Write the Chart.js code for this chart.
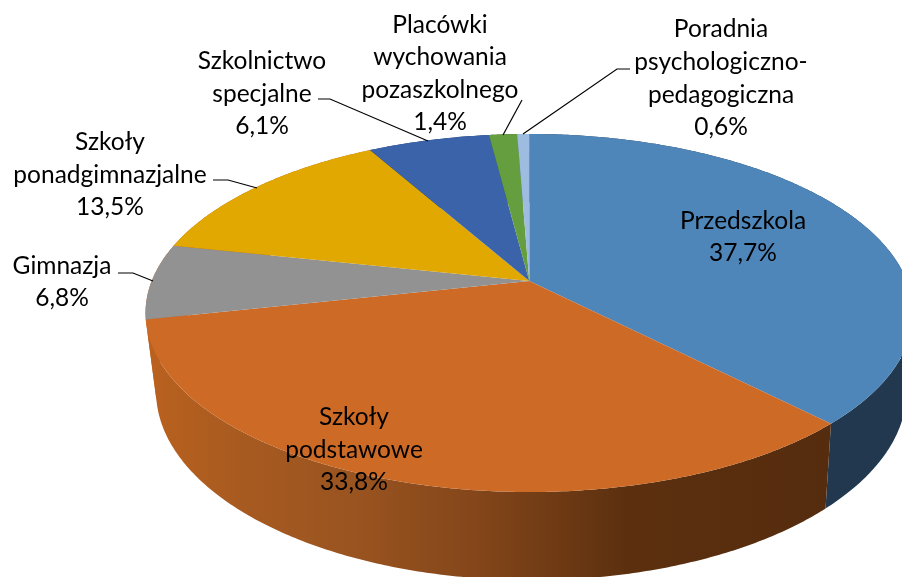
<!DOCTYPE html>
<html lang="pl">
<head>
<meta charset="utf-8">
<style>html,body{margin:0;padding:0;background:#fff}canvas{display:block}</style>
<script src="https://cdn.jsdelivr.net/npm/chart.js@4/dist/chart.umd.js"></script>
</head>
<body>
<canvas id="c" width="902" height="577"></canvas>
<script>
const categories = [
  ['Przedszkola'],
  ['Szkoły', 'podstawowe'],
  ['Gimnazja'],
  ['Szkoły', 'ponadgimnazjalne'],
  ['Szkolnictwo', 'specjalne'],
  ['Placówki', 'wychowania', 'pozaszkolnego'],
  ['Poradnia', 'psychologiczno-', 'pedagogiczna']
];
const values = [37.7, 33.8, 6.8, 13.5, 6.1, 1.4, 0.6];
const topColors = ['#4F86BA', '#CD6A26', '#929292', '#E0A800', '#3B63A9', '#659E3F', '#9EBCE0'];
const wallColors = [
  [[0, '#21384F'], [1, '#21384F']],
  [[0, '#BA611F'], [0.15, '#A65A20'], [0.3, '#9A5420'], [0.48, '#84461A'], [0.7, '#5C300F'], [1, '#552C0E']],
  [[0, '#BA611F'], [1, '#BA611F']],
  [[0, '#BA611F'], [1, '#BA611F']],
  [[0, '#223a63'], [1, '#223a63']],
  [[0, '#3a5c24'], [1, '#3a5c24']],
  [[0, '#5c6e82'], [1, '#5c6e82']]
];

// Perspective of the tilted disc (layout, not data)
const view = { cx: 529.3, cy: 281, ax: 377.6, ay: 173.3, tilt: 0.1787, depth: 79, shrink: 0.022, skew: 2 };
// Label layout: centre x, centre y of each line, leader polyline
const labelLayout = [
  { x: 743, y: [221, 253] },
  { x: 354, y: [417, 450, 482] },
  { x: 62, y: [266, 298], leader: [[118, 273], [133, 273], [153, 281]] },
  { x: 110, y: [142, 175, 207], leader: [[213, 180], [228, 180], [257, 188]] },
  { x: 262, y: [61, 94, 126], leader: [[318, 99], [330, 99], [428, 141]] },
  { x: 440, y: [25, 57, 90, 122], leader: [[522, 100], [503, 135]] },
  { x: 721, y: [29, 62, 95, 127], leader: [[630, 69], [617, 69], [523, 134]] }
];

function project(angle, z) {
  const u = Math.cos(angle), v = Math.sin(angle);
  const w = 1 - view.tilt * v + view.shrink * z;
  return [view.cx + view.skew * z + view.ax * u / w, view.cy + (view.ay * v + view.depth * z) / w];
}

const perspectivePie = {
  id: 'perspectivePie',
  beforeDatasetDraw(chart, args) {
    const ctx = chart.ctx;
    const arcs = chart.getDatasetMeta(args.index).data;
    // Side walls first
    arcs.forEach((arc, i) => {
      const a0 = arc.startAngle, a1 = arc.endAngle;
      const steps = Math.max(2, Math.ceil((a1 - a0) / 0.01));
      ctx.beginPath();
      for (let s = 0; s < steps; s++) {
        const t0 = a0 + (a1 - a0) * s / steps, t1 = a0 + (a1 - a0) * (s + 1) / steps;
        const q = [project(t0, 0), project(t1, 0), project(t1, 1), project(t0, 1)];
        let area = 0;
        q.forEach((p, k) => { const n = q[(k + 1) % 4]; area += p[0] * n[1] - n[0] * p[1]; });
        if (area < 0) q.reverse();
        ctx.moveTo(q[0][0], q[0][1]);
        for (let k = 1; k < 4; k++) ctx.lineTo(q[k][0], q[k][1]);
        ctx.closePath();
      }
      const g = ctx.createLinearGradient(146, 0, 832, 0);
      wallColors[i].forEach(st => g.addColorStop(st[0], st[1]));
      ctx.fillStyle = g;
      ctx.fill();
    });
    // Top face
    arcs.forEach((arc, i) => {
      const a0 = arc.startAngle, a1 = arc.endAngle;
      const steps = Math.max(2, Math.ceil((a1 - a0) / 0.01));
      ctx.beginPath();
      ctx.moveTo(view.cx, view.cy);
      for (let s = 0; s <= steps; s++) {
        const p = project(a0 + (a1 - a0) * s / steps, 0);
        ctx.lineTo(p[0], p[1]);
      }
      ctx.closePath();
      ctx.fillStyle = arc.options.backgroundColor;
      ctx.fill();
    });
    return false; // the default circular drawing is replaced
  },
  afterDatasetsDraw(chart) {
    const ctx = chart.ctx;
    ctx.save();
    ctx.strokeStyle = '#000';
    ctx.lineWidth = 1.2;
    labelLayout.forEach(l => {
      if (!l.leader) return;
      ctx.beginPath();
      l.leader.forEach((p, k) => k ? ctx.lineTo(p[0], p[1]) : ctx.moveTo(p[0], p[1]));
      ctx.stroke();
    });
    ctx.fillStyle = '#000';
    ctx.font = '24.5px Lato, "Noto Sans", sans-serif';
    ctx.textAlign = 'center';
    ctx.textBaseline = 'middle';
    categories.forEach((lines, i) => {
      const l = labelLayout[i];
      const text = lines.concat(values[i].toFixed(1).replace('.', ',') + '%');
      text.forEach((t, k) => ctx.fillText(t, l.x, l.y[k]));
    });
    ctx.restore();
  }
};

new Chart(document.getElementById('c'), {
  type: 'pie',
  data: {
    labels: categories.map(c => c.join(' ')),
    datasets: [{ data: values, backgroundColor: topColors, borderWidth: 0 }]
  },
  options: {
    responsive: false,
    animation: false,
    plugins: { legend: { display: false }, tooltip: { enabled: false } }
  },
  plugins: [perspectivePie]
});
</script>
</body>
</html>
